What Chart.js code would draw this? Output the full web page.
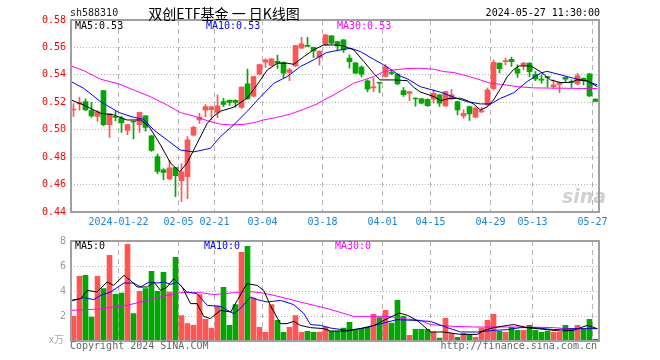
<!DOCTYPE html>
<html lang="zh-CN">
<head>
<meta charset="UTF-8">
<title>双创ETF基金 日K线图</title>
<script src="https://cdn.jsdelivr.net/npm/chart.js@4.4.1/dist/chart.umd.min.js"></script>
<style>
    body { margin: 0; background: #fff; }
    #wrap { position: relative; width: 660px; height: 360px; overflow: hidden; font-family: "DejaVu Sans Mono", monospace; font-size: 10px; }
    canvas { position: absolute; left: 0; }
    #kline { top: 0; }
    #vol { top: 230px; }
    .txt { position: absolute; line-height: 12px; white-space: nowrap; }
</style>
</head>
<body>
<div id="wrap">
    <canvas id="kline" width="660" height="230"></canvas>
    <canvas id="vol" width="660" height="130"></canvas>

    <div class="txt" style="left:70px; top:7px; color:#222;">sh588310</div>
    <div class="txt" style="left:224px; top:4px; transform:translateX(-50%); font:14px/18px 'Noto Sans CJK SC'; color:#000;">双创ETF基金 一 日K线图</div>
    <div class="txt" style="right:60px; top:7px; color:#000;">2024-05-27 11:30:00</div>

    <div class="txt" style="left:75px; top:20px; color:#000;">MA5:0.53</div>
    <div class="txt" style="left:206px; top:20px; color:#0000ff;">MA10:0.53</div>
    <div class="txt" style="left:337px; top:20px; color:#ff00ff;">MA30:0.53</div>

    <div class="txt" style="left:75px; top:240px; color:#000;">MA5:0</div>
    <div class="txt" style="left:204px; top:240px; color:#0000ff;">MA10:0</div>
    <div class="txt" style="left:335px; top:240px; color:#ff00ff;">MA30:0</div>

    <div class="txt" style="left:49px; top:333px; color:#aaa; font-family:'Noto Sans CJK SC'; font-size:10px;">x万</div>
    <div class="txt" style="left:70px; top:340px; color:#666;">Copyright 2024 SINA.COM</div>
    <div class="txt" style="right:63px; top:340px; color:#666;">http://finance.sina.com.cn</div>
    <div class="txt" style="left:562px; top:186px; font:italic bold 19px/20px 'DejaVu Sans'; color:rgba(150,150,150,0.45);">sina</div>
</div>

<script>
// 交易日
const dates = [
    '01-10','01-11','01-12','01-15','01-16','01-17','01-18','01-19','01-22','01-23','01-24','01-25','01-26','01-29','01-30','01-31',
    '02-01','02-02','02-05','02-06','02-07','02-08','02-19','02-20','02-21','02-22','02-23','02-26','02-27','02-28','02-29',
    '03-01','03-04','03-05','03-06','03-07','03-08','03-11','03-12','03-13','03-14','03-15','03-18','03-19','03-20','03-21','03-22','03-25','03-26','03-27','03-28','03-29',
    '04-01','04-02','04-03','04-08','04-09','04-10','04-11','04-12','04-15','04-16','04-17','04-18','04-19','04-22','04-23','04-24','04-25','04-26','04-29','04-30',
    '05-06','05-07','05-08','05-09','05-10','05-13','05-14','05-15','05-16','05-17','05-20','05-21','05-22','05-23','05-24','05-27'
];

// K线 (开 高 低 收)
const opens = [
    0.5144,0.5188,0.5205,0.5140,0.5097,0.5285,0.5036,0.5097,0.5085,0.4995,0.5061,0.5037,0.5102,0.4956,0.4805,0.4707,
    0.4641,0.4724,0.4628,0.4658,0.4961,0.5072,0.5142,0.5146,0.5127,0.5206,0.5215,0.5215,0.5163,0.5335,0.5245,
    0.5405,0.5492,0.5468,0.5499,0.5492,0.5417,0.5465,0.5594,0.5612,0.5601,0.5528,0.5619,0.5684,0.5643,0.5655,0.5523,0.5487,0.5456,0.5356,0.5304,0.5342,
    0.5388,0.5415,0.5405,0.5285,0.5265,0.5227,0.5225,0.5222,0.5222,0.5254,0.5174,0.5222,0.5205,0.5101,0.5169,0.5091,0.5130,0.5181,0.5300,0.5485,
    0.5496,0.5514,0.5443,0.5470,0.5485,0.5404,0.5364,0.5383,0.5314,0.5331,0.5382,0.5347,0.5334,0.5375,0.5407,0.5224
];
const highs = [
    0.5190,0.5238,0.5225,0.5200,0.5140,0.5288,0.5117,0.5136,0.5098,0.5040,0.5062,0.5128,0.5103,0.4957,0.4822,0.4717,
    0.4776,0.4726,0.4753,0.4950,0.5025,0.5120,0.5183,0.5170,0.5253,0.5228,0.5218,0.5218,0.5312,0.5443,0.5390,
    0.5478,0.5517,0.5519,0.5545,0.5495,0.5448,0.5616,0.5674,0.5674,0.5603,0.5575,0.5694,0.5686,0.5645,0.5657,0.5546,0.5490,0.5465,0.5363,0.5378,0.5344,
    0.5475,0.5436,0.5408,0.5308,0.5280,0.5232,0.5228,0.5226,0.5291,0.5257,0.5280,0.5295,0.5208,0.5145,0.5172,0.5165,0.5162,0.5303,0.5509,0.5487,
    0.5522,0.5529,0.5473,0.5492,0.5487,0.5424,0.5400,0.5385,0.5363,0.5346,0.5384,0.5363,0.5412,0.5378,0.5410,0.5226
];
const lows = [
    0.5097,0.5142,0.5141,0.5090,0.5060,0.5030,0.4944,0.5066,0.4980,0.4963,0.4932,0.4980,0.4990,0.4841,0.4680,0.4636,
    0.4635,0.4512,0.4476,0.4497,0.4955,0.5045,0.5095,0.5075,0.5087,0.5168,0.5178,0.5165,0.5155,0.5222,0.5240,
    0.5400,0.5455,0.5465,0.5447,0.5380,0.5358,0.5460,0.5592,0.5605,0.5528,0.5470,0.5617,0.5626,0.5582,0.5563,0.5449,0.5409,0.5385,0.5275,0.5278,0.5271,
    0.5383,0.5402,0.5328,0.5242,0.5212,0.5172,0.5188,0.5170,0.5193,0.5169,0.5169,0.5220,0.5108,0.5084,0.5067,0.5088,0.5125,0.5174,0.5290,0.5414,
    0.5473,0.5461,0.5382,0.5436,0.5387,0.5358,0.5339,0.5310,0.5302,0.5271,0.5346,0.5309,0.5327,0.5327,0.5241,0.5204
];
const closes = [
    0.5148,0.5200,0.5145,0.5101,0.5130,0.5036,0.5115,0.5089,0.5049,0.5037,0.5056,0.5127,0.5017,0.4849,0.4696,0.4688,
    0.4722,0.4665,0.4692,0.4926,0.5017,0.5092,0.5168,0.5166,0.5175,0.5185,0.5199,0.5199,0.5310,0.5225,0.5387,
    0.5475,0.5509,0.5516,0.5485,0.5412,0.5436,0.5614,0.5626,0.5608,0.5575,0.5572,0.5691,0.5631,0.5611,0.5582,0.5497,0.5412,0.5405,0.5295,0.5313,0.5339,
    0.5458,0.5411,0.5334,0.5256,0.5278,0.5224,0.5193,0.5175,0.5266,0.5193,0.5278,0.5254,0.5145,0.5120,0.5115,0.5157,0.5140,0.5290,0.5491,0.5446,
    0.5498,0.5497,0.5412,0.5485,0.5424,0.5370,0.5362,0.5380,0.5327,0.5344,0.5368,0.5345,0.5395,0.5358,0.5246,0.5207
];

// 成交量 (万)
const volumes = [
    1.97,5.17,5.25,1.92,5.17,4.19,6.85,3.73,3.84,7.73,2.19,3.97,4.19,5.57,3.97,5.49,
    3.92,6.69,2.03,1.39,1.25,3.71,1.73,1.01,2.80,4.29,1.25,2.91,7.09,7.57,3.44,
    1.09,0.69,2.91,1.65,0.69,1.09,2.03,0.69,0.77,0.69,0.69,1.09,0.77,0.77,1.04,1.49,0.85,0.99,1.09,2.13,1.87,
    2.45,1.44,3.25,1.97,0.45,0.93,0.93,0.93,0.72,0.24,1.81,0.61,0.29,0.61,0.53,0.29,1.04,1.65,2.13,0.77,
    0.69,1.09,0.85,0.85,1.25,0.85,0.69,0.80,0.69,0.69,1.25,0.93,1.25,0.93,1.73,0.13
];

// 均线读数 (位置以交易日序号计)
const ma5At  = [-0.4,1.7,4.5,6.7,8.9,11.2,12.6,14.5,16.2,17.7,18.9,20.6,22.3,23.4,24.5,26.7,28.9,30.6,32.3,34,35.6,36.7,38.4,40,41.7,43.4,45,46.7,48.4,50,51.1,53.4,55.6,56.7,57.8,60.1,61.2,62.8,64.5,65.6,66.7,67.8,68.9,70,71.2,72.3,73.4,74.3,76.2,77.8,79.5,81.2,82.8,83.9,85.6,87.3];
const ma5    = [0.5217,0.518,0.512,0.5108,0.5071,0.5071,0.5023,0.4889,0.4755,0.4694,0.4755,0.4901,0.5047,0.5100,0.5135,0.5164,0.5229,0.5327,0.5436,0.5485,0.5485,0.5477,0.5533,0.5582,0.5618,0.5618,0.5611,0.5582,0.5497,0.5412,0.5363,0.5363,0.5358,0.5310,0.5275,0.5241,0.5212,0.5229,0.5229,0.5212,0.5188,0.5144,0.5164,0.5217,0.5302,0.5387,0.5441,0.5465,0.5465,0.5424,0.5363,0.5344,0.5344,0.5363,0.5358,0.5314];
const ma10At = [-0.4,1.7,4.5,7.6,10,11.7,13.4,15.6,17.8,20,22.8,24.5,26.7,28.9,31.2,33.4,35.6,37.8,40,42.2,44.5,46.2,47.8,50,51.7,53.4,54.5,55.6,57.8,61.2,63.9,65.6,67.8,69.5,71.2,73.4,75.6,77.8,78.9,81.2,83.4,85.7,87.3];
const ma10   = [0.5351,0.5302,0.5205,0.5125,0.5091,0.5076,0.4998,0.4925,0.4852,0.4838,0.4864,0.495,0.5035,0.5132,0.5241,0.5339,0.5387,0.546,0.5509,0.5563,0.5582,0.5594,0.557,0.5514,0.5473,0.5424,0.539,0.5372,0.5314,0.5273,0.5229,0.5205,0.5188,0.5188,0.5229,0.527,0.5351,0.5412,0.5426,0.54,0.5375,0.5351,0.5327];
const ma30At = [-0.4,1.7,4.5,7.6,10,12.8,15.6,17.8,20,22.3,24.5,26.2,28.4,30.1,31.7,33.9,36.2,38.4,40.6,41.7,43.4,45,46.7,48.4,50,51.7,53.4,55.6,57.8,60,61.7,63.4,65.6,67.8,69.5,71.2,74,76.7,82.2,87.3];
const ma30   = [0.5465,0.5431,0.5368,0.5334,0.529,0.5241,0.518,0.5125,0.51,0.5066,0.504,0.5035,0.5039,0.5052,0.5071,0.509,0.5115,0.5149,0.5188,0.5217,0.5254,0.5295,0.5339,0.5363,0.5387,0.5424,0.5436,0.5446,0.5448,0.5441,0.5424,0.5417,0.5392,0.5363,0.5339,0.5331,0.5314,0.5305,0.5302,0.53];

const vma5At  = [-0.4,1.2,2.3,3.9,5.6,6.7,8.4,9.5,10.6,12.3,13.4,14.5,15.6,16.7,18.1,19.5,20.6,21.7,22.8,24.5,26.2,27.3,28.9,30.6,31.7,32.8,34.5,35.6,36.7,37.8,39.5,41.7,42.8,45.6,47.8,50.1,52.3,54.3,55.7,57.4,59.5,61.7,64.5,67.3,68.4,70.1,72.3,73.4,75.6,78.9,81.2,83.3,85.6,87.3];
const vma5    = [3.25,3.39,4.05,3.92,4.72,4.45,5.25,4.85,4.32,4.32,4.72,4.05,4.32,4.99,4.32,2.99,2.99,1.97,1.79,2.45,2.32,3.25,4.59,4.45,4.05,2.85,1.39,1.39,1.57,1.25,1.07,0.99,0.8,0.8,0.99,1.25,1.79,2.24,2.05,1.6,0.72,0.72,0.53,0.53,0.85,1.07,1.25,1.31,1.07,0.91,0.8,0.85,1.25,0.99];
const vma10At = [-0.4,1.7,3.4,4.5,6.2,8.4,10,11.2,12.6,13.9,15.1,16.2,17.3,18.9,20.6,22.3,24.5,26.7,27.8,29.5,30.6,32.3,34.5,36.7,38.4,39.5,41.2,42.8,45.6,48.9,50.6,53.9,56.7,59.5,62.3,64.5,67.3,70.1,72.3,74.5,76.7,80,83.3,87.3];
const vma10   = [3.2,3.47,3.31,3.65,3.92,4.64,4.64,4.32,4.72,4.64,4.72,4.53,4.72,3.92,3.79,2.85,2.77,2.19,2.59,3.52,3.31,3.12,3.25,2.91,2.19,1.31,1.25,1.04,0.85,1.07,1.31,1.71,1.65,1.57,1.07,0.72,0.72,0.85,0.91,1.07,1.07,0.91,0.99,0.99];
const vma30At = [-0.4,1.7,4.5,6.7,8.9,11.2,13.4,15.6,17.8,21.2,23.4,26.7,28.9,31.2,33.4,35.6,37.8,40.1,42.8,46.7,49.4,52.3,55,57.8,59.5,63.4,66.8,70.1,74.5,80,82.3,87.3];
const vma30   = [2.45,2.5,2.56,2.72,2.85,3.12,3.39,3.65,3.87,3.87,3.71,3.87,3.97,3.87,3.65,3.39,3.12,2.85,2.53,1.97,1.97,1.97,1.79,1.65,1.31,1.17,1.12,1.12,1.12,1.07,0.99,0.99];

// 刻度
const tickDates = ['2024-01-22','02-05','02-21','03-04','03-18','04-01','04-15','04-29','05-13','05-27'];
const priceTicks = [0.44, 0.46, 0.48, 0.50, 0.52, 0.54, 0.56, 0.58];
const volTicks = [2, 4, 6, 8];

const upColor = '#ff5555';
const downColor = '#00a800';
const gridColor = '#b4b4b4';
const monoFont = { family: 'DejaVu Sans Mono', size: 10 };

const xTicks = tickDates.map(d => dates.indexOf(d.slice(-5)));
const candleColors = opens.map((o, i) => closes[i] >= o ? upColor : downColor);

// 外框
const framePlugin = {
    id: 'frame',
    afterDatasetsDraw(chart) {
        const { ctx, chartArea: a } = chart;
        const l = Math.round(a.left), r = Math.round(a.right);
        const t = Math.round(a.top), b = Math.round(a.bottom);
        ctx.save();
        ctx.strokeStyle = '#a0a0a0';
        ctx.lineWidth = 2;
        ctx.strokeRect(l, t, r - l, b - t);
        ctx.restore();
    }
};

function xAxis(showLabels, height) {
    return {
        type: 'linear',
        min: 0,
        max: dates.length,
        offset: false,
        afterBuildTicks: axis => { axis.ticks = xTicks.map(v => ({ value: v })); },
        afterFit: axis => { axis.height = height; },
        grid: { color: gridColor, offset: false, drawTicks: false },
        border: { display: false, dash: [5, 4] },
        ticks: {
            display: showLabels,
            autoSkip: false,
            maxRotation: 0,
            minRotation: 0,
            padding: 4,
            color: '#1a84d6',
            font: monoFont,
            callback: (v, i) => tickDates[i]
        }
    };
}

function yAxis(min, max, ticks, color, fmt) {
    return {
        min: min,
        max: max,
        afterBuildTicks: axis => { axis.ticks = ticks.map(v => ({ value: v })); },
        afterFit: axis => { axis.width = 70.5; },
        grid: { color: gridColor, drawTicks: false },
        border: { display: false, dash: [1, 2] },
        ticks: { color: color, padding: 4.5, font: monoFont, callback: fmt }
    };
}

function maLine(label, at, vals, color) {
    return {
        type: 'line',
        label: label,
        data: at.map((p, i) => ({ x: p + 0.5, y: vals[i] })),
        borderColor: color,
        borderWidth: 1,
        pointRadius: 0,
        tension: 0,
        order: 0
    };
}

const baseOptions = {
    responsive: false,
    animation: false,
    devicePixelRatio: 1,
    events: [],
    plugins: { legend: { display: false }, tooltip: { enabled: false } }
};

// 日K线图
new Chart(document.getElementById('kline'), {
    type: 'bar',
    data: {
        datasets: [
            maLine('MA5', ma5At, ma5, '#000000'),
            maLine('MA10', ma10At, ma10, '#0000ff'),
            maLine('MA30', ma30At, ma30, '#ff00ff'),
            {
                label: '实体',
                data: opens.map((o, i) => ({ x: i + 0.5, y: [o, closes[i]] })),
                backgroundColor: candleColors,
                grouped: false,
                categoryPercentage: 1,
                barPercentage: 1,
                maxBarThickness: 5,
                minBarLength: 1,
                order: 1
            },
            {
                label: '影线',
                data: lows.map((l, i) => ({ x: i + 0.5, y: [l, highs[i]] })),
                backgroundColor: candleColors,
                grouped: false,
                categoryPercentage: 1,
                barPercentage: 1,
                maxBarThickness: 1,
                order: 2
            }
        ]
    },
    options: {
        ...baseOptions,
        layout: { padding: { left: 0, right: 61.5, top: 20, bottom: 0 } },
        scales: {
            x: xAxis(true, 18),
            y: yAxis(0.44, 0.58, priceTicks, '#ff0000', v => v.toFixed(2))
        }
    },
    plugins: [framePlugin]
});

// 成交量
new Chart(document.getElementById('vol'), {
    type: 'bar',
    data: {
        datasets: [
            maLine('MA5', vma5At, vma5, '#000000'),
            maLine('MA10', vma10At, vma10, '#0000ff'),
            maLine('MA30', vma30At, vma30, '#ff00ff'),
            {
                label: '成交量',
                data: volumes.map((v, i) => ({ x: i + 0.5, y: v })),
                backgroundColor: candleColors,
                grouped: false,
                categoryPercentage: 1,
                barPercentage: 1,
                maxBarThickness: 5,
                order: 1
            }
        ]
    },
    options: {
        ...baseOptions,
        layout: { padding: { left: 0, right: 61.5, top: 11, bottom: 0 } },
        scales: {
            x: xAxis(false, 19),
            y: yAxis(0, 8, volTicks, '#999999', v => String(v))
        }
    },
    plugins: [framePlugin]
});
</script>
</body>
</html>
